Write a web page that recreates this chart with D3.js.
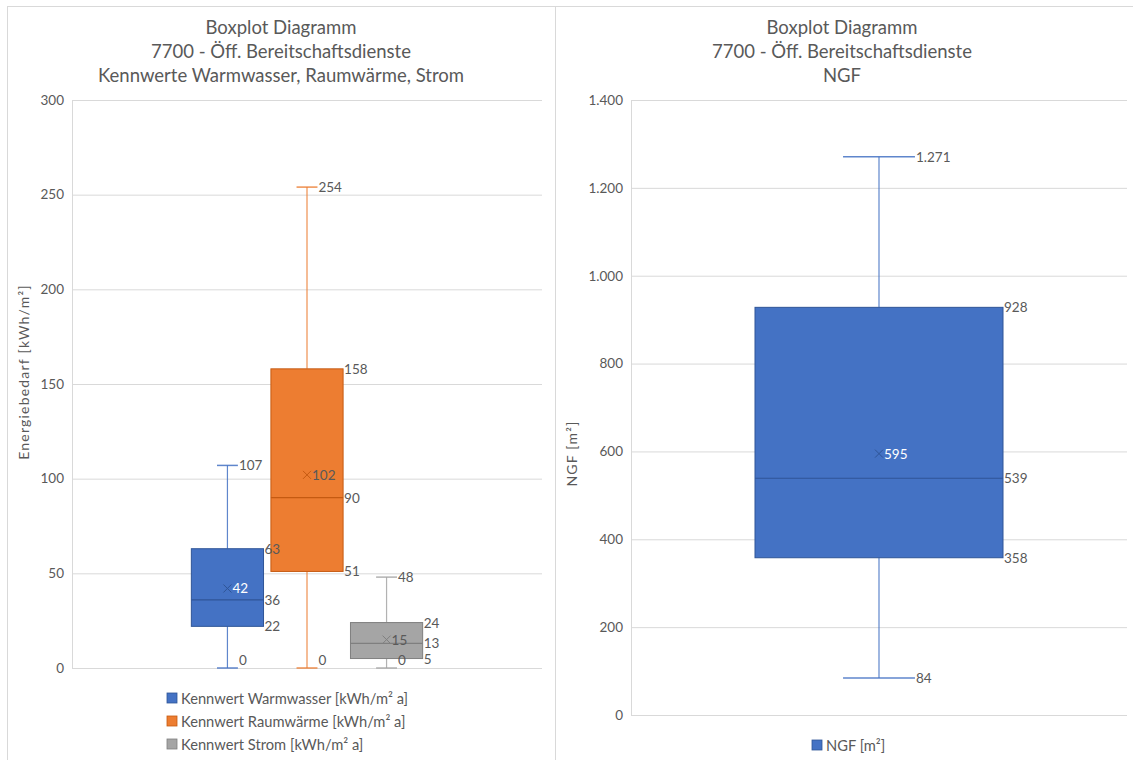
<!DOCTYPE html>
<html>
<head>
<meta charset="utf-8">
<script src="https://cdn.jsdelivr.net/npm/d3@7"></script>
<style>
  body { margin: 0; background: #fff; }
  svg text { font-family: Lato, "Open Sans", sans-serif; }
</style>
</head>
<body>
<svg id="chart" width="1133" height="760"></svg>
<script>
// Energy indicators (kWh/m² a)
const energySeries = ["Kennwert Warmwasser [kWh/m² a]", "Kennwert Raumwärme [kWh/m² a]", "Kennwert Strom [kWh/m² a]"];
const energyMin    = [0, 0, 0];
const energyQ1     = [22, 51, 5];
const energyMedian = [36, 90, 13];
const energyQ3     = [63, 158, 24];
const energyMax    = [107, 254, 48];
const energyMean   = [42, 102, 15];
const energyTicks  = [0, 50, 100, 150, 200, 250, 300];

// Net floor area (m²)
const areaSeries = ["NGF [m²]"];
const areaMin    = [84];
const areaQ1     = [358];
const areaMedian = [539];
const areaQ3     = [928];
const areaMax    = [1271];
const areaMean   = [595];
const areaTicks  = [0, 200, 400, 600, 800, 1000, 1200, 1400];

const fillColors  = ["#4472C4", "#ED7D31", "#A5A5A5"];
const edgeColors  = ["#2F5597", "#C55A11", "#7F7F7F"];
const meanLabelColors = ["#ffffff", "#595959", "#595959"];
const textColor = "#595959";

const de = d3.formatLocale({ decimal: ",", thousands: ".", grouping: [3], currency: ["", " €"] });
const fmt = de.format(",.0f");

const svg = d3.select("#chart");

// panel frames
svg.append("rect").attr("x", 7.5).attr("y", 6.5).attr("width", 548).attr("height", 770)
  .attr("fill", "none").attr("stroke", "#d9d9d9");
svg.append("rect").attr("x", 555.5).attr("y", 6.5).attr("width", 590).attr("height", 770)
  .attr("fill", "none").attr("stroke", "#d9d9d9");

function drawBoxChart(o) {
  const g = svg.append("g");
  const rows = o.series.map((name, i) => ({
    name, i, min: o.min[i], q1: o.q1[i], med: o.median[i], q3: o.q3[i], max: o.max[i], mean: o.mean[i]
  }));

  const y = d3.scaleLinear().domain([0, d3.max(o.ticks)]).range([o.bottom, o.top]);
  const x = d3.scaleBand().domain(o.series).range([o.left, o.right])
    .paddingInner(o.padInner).paddingOuter(o.padOuter);

  // titles
  o.title.forEach((t, k) => {
    g.append("text").attr("x", o.titleX).attr("y", 27 + k * 24)
      .attr("text-anchor", "middle").attr("dominant-baseline", "central")
      .style("font-size", "18.5px").style("fill", textColor).text(t);
  });

  // gridlines + tick labels
  const axis = g.append("g").attr("transform", `translate(${o.left},0)`)
    .call(d3.axisLeft(y).tickValues(o.ticks).tickFormat(fmt).tickSize(-(o.right - o.left)).tickPadding(8));
  axis.select(".domain").attr("stroke", "#d9d9d9");
  axis.selectAll(".tick line").attr("stroke", "#d9d9d9");
  axis.selectAll(".tick text").style("font-size", "13.5px").style("fill", textColor)
    .style("font-family", "Lato, 'Open Sans', sans-serif");

  // axis title
  g.append("text")
    .attr("transform", `translate(${o.yTitleX},${(o.top + o.bottom) / 2 + o.yTitleShift}) rotate(-90)`)
    .attr("text-anchor", "middle").attr("dominant-baseline", "central")
    .style("font-size", "14px").style("letter-spacing", "1.2px").style("fill", textColor).text(o.yTitle);

  const boxLayer = g.append("g");
  const labelLayer = g.append("g");

  const lbl = (xx, yy, txt, color) => labelLayer.append("text")
    .attr("x", xx).attr("y", yy).attr("dominant-baseline", "central")
    .style("font-size", "13.5px").style("fill", color || textColor).text(txt);

  rows.forEach(d => {
    const bx = x(d.name), bw = x.bandwidth(), cx = bx + bw / 2;
    const capW = bw * 0.29;
    const c = fillColors[d.i], e = edgeColors[d.i];
    const bg = boxLayer.append("g");

    // whiskers
    bg.append("line").attr("x1", cx).attr("x2", cx).attr("y1", y(d.max)).attr("y2", y(d.q3))
      .attr("stroke", c).attr("stroke-width", 1.2).attr("opacity", 0.85);
    bg.append("line").attr("x1", cx).attr("x2", cx).attr("y1", y(d.q1)).attr("y2", y(d.min))
      .attr("stroke", c).attr("stroke-width", 1.2).attr("opacity", 0.85);
    [d.max, d.min].forEach(v => {
      bg.append("line").attr("x1", cx - capW / 2).attr("x2", cx + capW / 2)
        .attr("y1", y(v)).attr("y2", y(v))
        .attr("stroke", c).attr("stroke-width", 1.5).attr("opacity", 0.85);
    });

    // box
    bg.append("rect").attr("x", bx).attr("y", y(d.q3)).attr("width", bw).attr("height", y(d.q1) - y(d.q3))
      .attr("fill", c).attr("stroke", e).attr("stroke-width", 1);
    bg.append("line").attr("x1", bx).attr("x2", bx + bw).attr("y1", y(d.med)).attr("y2", y(d.med))
      .attr("stroke", e).attr("stroke-width", 1.2);

    // mean marker
    const my = y(d.mean), s = 4;
    bg.append("path").attr("d", `M${cx - s},${my - s}L${cx + s},${my + s}M${cx - s},${my + s}L${cx + s},${my - s}`)
      .attr("stroke", e).attr("stroke-width", 1);

    // value labels
    const clampY = v => Math.min(y(v), o.bottom - 8);
    lbl(cx + capW / 2 + 1, clampY(d.max), fmt(d.max));
    lbl(cx + capW / 2 + 1, clampY(d.min), fmt(d.min));
    lbl(bx + bw + 1, y(d.q3), fmt(d.q3));
    lbl(bx + bw + 1, y(d.med), fmt(d.med));
    lbl(bx + bw + 1, clampY(d.q1), fmt(d.q1));
    lbl(cx + s + 1, my, fmt(d.mean), meanLabelColors[d.i]);
  });

  // legend
  o.series.forEach((name, i) => {
    const ly = o.legendY + i * 23;
    g.append("rect").attr("x", o.legendX).attr("y", ly - 5).attr("width", 10).attr("height", 10)
      .attr("fill", fillColors[i]).attr("stroke", edgeColors[i]).attr("stroke-width", 0.8);
    g.append("text").attr("x", o.legendX + 14).attr("y", ly).attr("dominant-baseline", "central")
      .style("font-size", "14.7px").style("fill", textColor).text(name);
  });
}

drawBoxChart({
  series: energySeries, min: energyMin, q1: energyQ1, median: energyMedian, q3: energyQ3,
  max: energyMax, mean: energyMean, ticks: energyTicks,
  left: 72, right: 542, top: 100, bottom: 668, padInner: 0.093, padOuter: 1.5,
  title: ["Boxplot Diagramm", "7700 - Öff. Bereitschaftsdienste", "Kennwerte Warmwasser, Raumwärme, Strom"],
  titleX: 281, yTitle: "Energiebedarf [kWh/m²]", yTitleX: 23, yTitleShift: -12,
  legendX: 167, legendY: 698
});

drawBoxChart({
  series: areaSeries, min: areaMin, q1: areaQ1, median: areaMedian, q3: areaQ3,
  max: areaMax, mean: areaMean, ticks: areaTicks,
  left: 631, right: 1127, top: 100, bottom: 715, padInner: 0, padOuter: 0.5,
  title: ["Boxplot Diagramm", "7700 - Öff. Bereitschaftsdienste", "NGF"],
  titleX: 842, yTitle: "NGF [m²]", yTitleX: 571, yTitleShift: 46,
  legendX: 812, legendY: 745
});
</script>
</body>
</html>
